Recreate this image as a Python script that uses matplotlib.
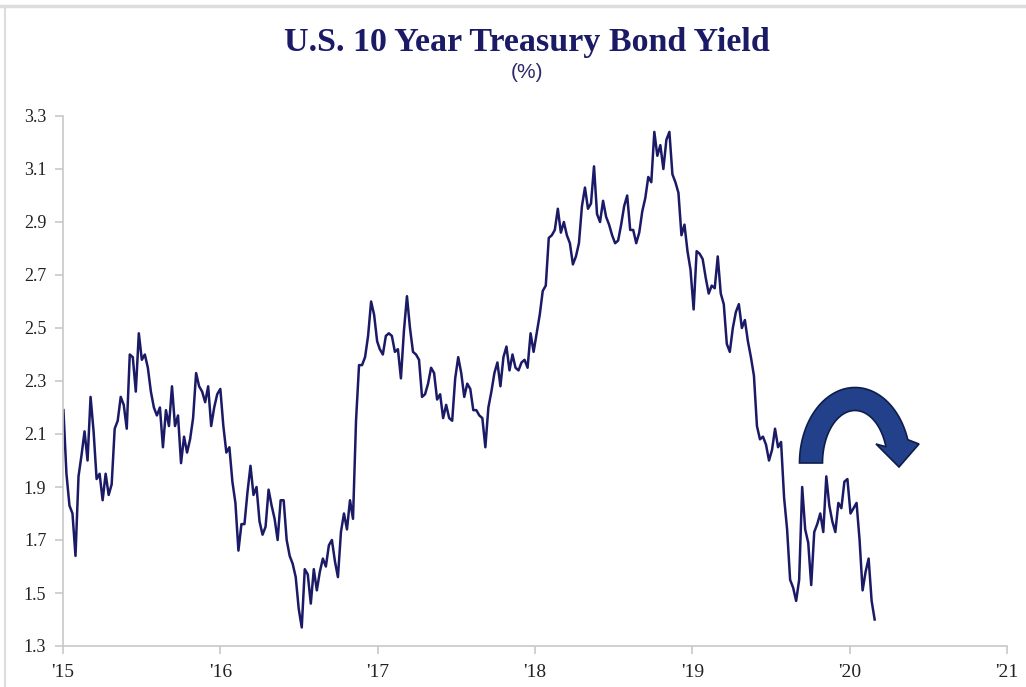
import numpy as np
import pandas as pd
import matplotlib
matplotlib.use("Agg")
import matplotlib.pyplot as plt
from matplotlib.patches import Polygon
from matplotlib.lines import Line2D
from matplotlib.transforms import Affine2D

# weekly (Friday) 10y yields, %
y2015 = [2.19, 1.95, 1.83, 1.80, 1.64, 1.94, 2.02, 2.11, 2.00,
         2.24, 2.11, 1.93, 1.95, 1.85, 1.95, 1.87, 1.91,
         2.12, 2.15, 2.24, 2.21, 2.12, 2.40, 2.39, 2.26, 2.48,
         2.38, 2.40, 2.35, 2.26, 2.20, 2.17, 2.20, 2.05, 2.19,
         2.13, 2.28, 2.13, 2.17, 1.99, 2.09, 2.03, 2.08, 2.16,
         2.33, 2.28, 2.26, 2.22, 2.28, 2.13, 2.20, 2.25]
y2016 = [2.27, 2.13, 2.03, 2.05, 1.92, 1.84, 1.66, 1.76, 1.76,
         1.88, 1.98, 1.87, 1.90, 1.77, 1.72, 1.75, 1.89, 1.83,
         1.78, 1.70, 1.85, 1.85, 1.70, 1.64, 1.61, 1.56, 1.44,
         1.37, 1.59, 1.57, 1.46, 1.59, 1.51, 1.58, 1.63, 1.60,
         1.68, 1.70, 1.62, 1.56, 1.73, 1.80, 1.74, 1.85, 1.78,
         2.15, 2.36, 2.36, 2.39, 2.47, 2.60, 2.55, 2.45]
y2017 = [2.42, 2.40, 2.47, 2.48, 2.47, 2.41, 2.42, 2.31, 2.49,
         2.62, 2.50, 2.41, 2.40, 2.38, 2.24, 2.25, 2.29, 2.35,
         2.33, 2.23, 2.25, 2.16, 2.21, 2.16, 2.15, 2.31, 2.39,
         2.33, 2.24, 2.29, 2.27, 2.19, 2.19, 2.17, 2.16, 2.05,
         2.20, 2.26, 2.33, 2.37, 2.28, 2.39, 2.43, 2.34, 2.40,
         2.35, 2.34, 2.37, 2.38, 2.35, 2.48, 2.41]
y2018 = [2.48, 2.55, 2.64, 2.66, 2.84, 2.85, 2.87, 2.95, 2.86,
         2.90, 2.85, 2.82, 2.74, 2.77, 2.82, 2.96, 3.03, 2.95,
         2.97, 3.11, 2.93, 2.90, 2.98, 2.92, 2.89, 2.85, 2.82,
         2.83, 2.89, 2.96, 3.00, 2.87, 2.87, 2.82, 2.86, 2.94,
         2.99, 3.07, 3.05, 3.24, 3.15, 3.19, 3.10, 3.21, 3.24,
         3.08, 3.05, 3.01, 2.85, 2.89, 2.79, 2.72]
y2019 = [2.57, 2.79, 2.78, 2.76, 2.69, 2.63, 2.66, 2.65, 2.77,
         2.63, 2.59, 2.44, 2.41, 2.50, 2.56, 2.59, 2.50, 2.53,
         2.45, 2.39, 2.32, 2.13, 2.08, 2.09, 2.06, 2.00, 2.04,
         2.12, 2.05, 2.07, 1.86, 1.74, 1.55, 1.52, 1.47, 1.55,
         1.90, 1.74, 1.69, 1.53, 1.73, 1.76, 1.80, 1.73, 1.94,
         1.83, 1.77, 1.73, 1.84, 1.82, 1.92, 1.93]
y2020 = [1.80, 1.82, 1.84, 1.70, 1.51, 1.58, 1.63, 1.47, 1.40]

years = [2015, 2016, 2017, 2018, 2019, 2020]
year_vals = [y2015, y2016, y2017, y2018, y2019, y2020]

dates = []
vals = []
for yr, v in zip(years, year_vals):
    end = f"{yr}-12-31" if yr < 2020 else "2020-02-28"
    d = pd.date_range(f"{yr}-01-01", end, freq="W-FRI")
    dates.extend(list(d))
    vals.extend(v)

x = np.array([d.year + (d.dayofyear - 1) / 365.25 for d in dates])
y = np.array(vals)

yticks = [1.3, 1.5, 1.7, 1.9, 2.1, 2.3, 2.5, 2.7, 2.9, 3.1, 3.3]
xticks = [2015, 2016, 2017, 2018, 2019, 2020, 2021]
xlabels = ["'15", "'16", "'17", "'18", "'19", "'20", "'21"]

navy = "#1b1a66"
W, H = 1026, 687

fig = plt.figure(figsize=(W / 100, H / 100), dpi=100)
ax = fig.add_axes([63 / W, 1 - 646 / H, (1007 - 63) / W, (646 - 116) / H])

ax.plot(x, y, color=navy, lw=1.8)

ax.set_xlim(2015, 2021)
ax.set_ylim(1.3, 3.3)
ax.set_yticks(yticks)
ax.set_yticklabels([f"{t:.1f}" for t in yticks])
ax.set_xticks(xticks)
ax.set_xticklabels(xlabels)

for s in ["top", "right"]:
    ax.spines[s].set_visible(False)
for s in ["left", "bottom"]:
    ax.spines[s].set_color("#c8c8c8")
    ax.spines[s].set_linewidth(1.2)
ax.tick_params(axis="both", colors="#c8c8c8", length=6, width=1.2,
               labelcolor="#222222")
ax.tick_params(axis="y", labelsize=13, pad=6)
ax.tick_params(axis="x", labelsize=14, pad=7)
for lab in ax.get_xticklabels() + ax.get_yticklabels():
    lab.set_family("Liberation Serif")

fig.text(527 / W, 1 - 42 / H, "U.S. 10 Year Treasury Bond Yield",
         ha="center", va="center", fontsize=24.5, fontweight="bold",
         family="Liberation Serif", color=navy)
fig.text(527 / W, 1 - 73 / H, "(%)", ha="center", va="center",
         fontsize=15, family="Liberation Sans", color="#2a2a6a")

# curved arrow, drawn in pixel space of the figure
px = Affine2D().scale(1 / W, -1 / H).translate(0, 1) + fig.transFigure
cx, cy, rx, ry, hw = 855, 463, 44, 64, 11.5
th = np.linspace(np.pi, np.deg2rad(18), 60)
outer = np.c_[cx + (rx + hw) * np.cos(th), cy - (ry + hw) * np.sin(th)]
inner = np.c_[cx + (rx - hw) * np.cos(th), cy - (ry - hw) * np.sin(th)][::-1]
head = np.array([[919, 444], [899, 467], [876, 444]])
pts = np.vstack([outer, head, inner])
fig.patches.append(Polygon(pts, closed=True, transform=px,
                           facecolor="#22418a", edgecolor="#0f1d4a",
                           lw=1.2, zorder=5))

# light frame lines of the original image
fig.lines.append(Line2D([0, 1], [1 - 6 / H, 1 - 6 / H], transform=fig.transFigure,
                        color="#dddddd", lw=2.5))
fig.lines.append(Line2D([5 / W, 5 / W], [0, 1 - 6 / H], transform=fig.transFigure,
                        color="#dddddd", lw=1.5))

fig.savefig("out.png", dpi=100)
